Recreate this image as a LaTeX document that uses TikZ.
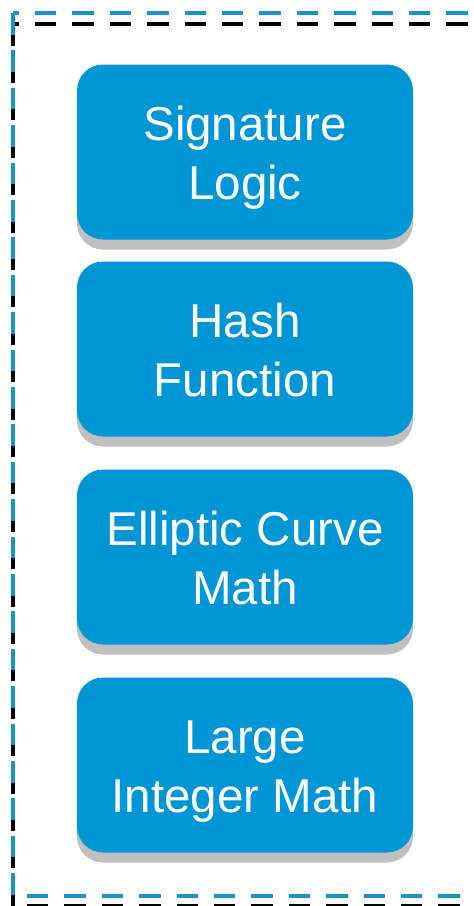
\documentclass[tikz,border=0pt]{standalone}
\usepackage{fontspec}
\setmainfont{Liberation Sans}
\usetikzlibrary{shadows}
\definecolor{boxblue}{RGB}{0,150,214}
\definecolor{shadowgray}{RGB}{191,191,191}
\definecolor{dashblue}{RGB}{24,146,210}
\tikzset{
  blockbox/.style={fill=boxblue, draw=none, rounded corners=26pt,
    minimum width=336pt, minimum height=175pt, inner sep=0pt,
    text height=102pt, text depth=8pt,
    text=white, align=center,
    font=\fontsize{47.5}{58.5}\selectfont,
    drop shadow={shadow xshift=0pt, shadow yshift=-10pt, fill=shadowgray, opacity=1}},
  borderline/.style={line width=3.6pt, dash pattern=on 21.5pt off 15.9pt}
}
\begin{document}
\begin{tikzpicture}[x=1pt,y=-1pt]
\useasboundingbox (0,0) rectangle (474,906);
% black dashed frame (offset down)
\coordinate (k1) at (13,24);
\coordinate (k2) at (490,24);
\coordinate (k3) at (13,906);
\coordinate (k4) at (490,906);
\draw[borderline, black, dash phase=15.5pt] (k1) -- (k2);
\draw[borderline, black] (k1) -- (k3);
\draw[borderline, black, dash phase=23.5pt] (k3) -- (k4);
% blue dashed frame
\coordinate (b1) at (13,13);
\coordinate (b2) at (490,13);
\coordinate (b3) at (13,896);
\coordinate (b4) at (490,896);
\draw[borderline, dashblue, dash phase=15.5pt] (b1) -- (b2);
\draw[borderline, dashblue] (b1) -- (b3);
\draw[borderline, dashblue, dash phase=23.5pt] (b3) -- (b4);
% blocks
\node[blockbox] (sig) at (245,152) {Signature\\Logic};
\node[blockbox] (hash) at (245,349) {Hash\\Function};
\node[blockbox] (ecm) at (245,557) {Elliptic Curve\\Math};
\node[blockbox] (lim) at (245,765) {Large\\Integer Math};
\end{tikzpicture}
\end{document}
